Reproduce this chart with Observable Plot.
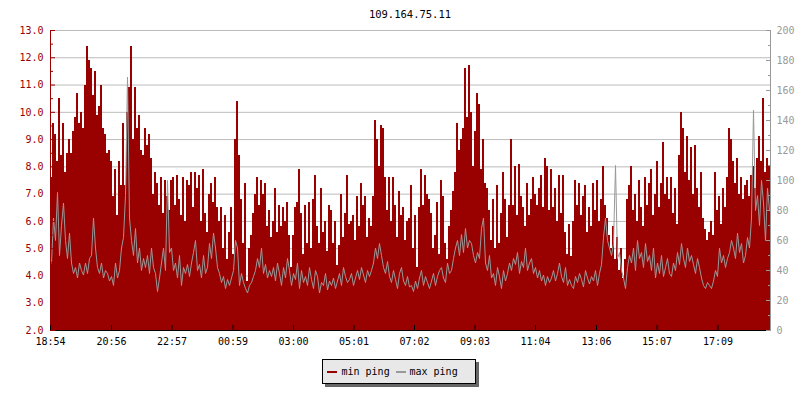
<!DOCTYPE html>
<html><head><meta charset="utf-8">
<script src="https://cdn.jsdelivr.net/npm/d3@7"></script>
<script src="https://cdn.jsdelivr.net/npm/@observablehq/plot@0.6"></script>
<style>
html,body{margin:0;padding:0;background:#fff;}
#wrap{position:relative;width:800px;height:400px;overflow:hidden;font-family:"DejaVu Sans Mono",monospace;}
#chart{position:absolute;left:0;top:0;}
#title{position:absolute;left:50px;width:720px;top:7px;text-align:center;font-size:10.5px;line-height:14px;color:#000;}
#legend{position:absolute;left:322px;top:359px;width:152px;height:23px;background:#e8e8e8;border:1px solid #000;box-shadow:3px 3px 0 #666;font-size:10px;color:#000;}
.sw{position:absolute;top:11px;width:10px;height:2px;}
.lt{position:absolute;top:0;line-height:23px;white-space:pre;}
</style></head><body>
<div id="wrap">
<div id="chart"></div>
<div id="title"></div>
<div id="legend"></div>
</div>
<script>
const chartTitle = "109.164.75.11";
const seriesNames = ["min ping", "max ping"];
const seriesColors = ["#990000", "#999999"];
const timeLabels = ["18:54","20:56","22:57","00:59","03:00","05:01","07:02","09:03","11:04","13:06","15:07","17:09"];
const leftTicks = [2,3,4,5,6,7,8,9,10,11,12,13];
const rightTicks = [0,20,40,60,80,100,120,140,160,180,200];
const spanMinutes = 1440;
const stepMinutes = 4;

// min ping (ms, left axis), one value per 4-minute column
const minPing = [
7.6,9.6,9.2,8.2,10.5,8.4,9.6,7.8,8.5,9.0,
8.5,9.3,9.8,10.7,9.6,10.0,9.4,11.0,12.4,11.9,
11.6,10.6,11.5,9.9,10.2,11.0,9.4,9.2,8.5,8.6,
8.2,6.9,7.9,6.2,8.2,7.3,9.6,7.3,10.0,10.9,
12.4,9.0,10.9,9.4,9.9,8.6,8.4,9.4,8.8,9.2,
8.3,7.0,7.8,7.4,6.6,7.6,6.3,7.5,6.9,6.4,
7.5,7.6,6.6,7.7,6.8,6.2,7.6,6.0,7.5,7.3,
7.8,6.5,7.8,7.2,7.7,6.0,7.9,6.3,5.6,7.0,
7.4,6.7,7.6,6.5,6.0,6.5,5.0,6.2,4.6,5.6,
6.5,4.8,9.0,10.4,8.4,6.8,5.2,7.4,3.8,5.0,
5.5,6.3,7.0,7.6,6.6,7.5,7.0,7.4,5.8,6.4,
5.4,6.0,7.2,5.6,6.6,5.8,6.5,6.0,6.7,5.5,
4.3,5.5,6.5,6.7,7.9,6.3,4.8,6.6,5.2,6.7,
5.0,6.8,7.7,5.8,5.2,7.2,5.6,6.0,4.9,6.6,
6.4,5.2,6.0,4.4,5.1,7.0,5.4,6.3,7.7,5.9,
6.0,6.2,5.3,6.9,5.8,7.4,6.6,6.9,5.4,6.1,
5.8,6.9,9.7,9.0,8.0,9.5,9.4,7.6,6.4,7.6,
6.0,7.6,6.6,5.4,7.1,6.2,6.5,5.3,6.0,6.1,
7.3,5.0,6.2,4.3,6.5,7.9,6.6,7.7,7.0,6.8,
6.3,5.0,5.5,6.7,4.8,7.5,6.9,5.2,4.6,5.8,
6.4,7.1,7.8,9.6,8.6,9.0,9.4,11.6,9.8,11.7,
10.0,8.0,9.3,10.7,10.3,7.9,9.0,7.4,7.2,6.4,
5.3,6.8,5.0,7.3,5.2,6.3,7.8,6.8,5.4,6.6,
9.0,6.6,8.0,6.2,8.1,6.9,6.5,5.8,7.4,6.2,
6.8,7.6,7.0,6.6,7.2,7.7,6.5,8.3,8.0,6.4,
7.9,6.5,7.2,6.0,7.7,6.3,7.7,5.6,4.8,5.9,
4.7,6.0,7.5,6.6,7.4,6.2,6.9,7.3,5.6,6.5,
5.8,7.4,6.4,7.5,6.0,6.8,8.0,6.6,6.1,5.5,
5.0,5.8,4.6,5.4,4.2,5.0,3.9,4.6,6.8,7.3,
8.0,6.4,7.0,6.0,7.5,6.5,5.8,7.6,6.6,7.4,
7.9,6.2,7.0,8.2,6.5,7.4,8.9,7.0,7.6,6.8,
7.6,6.3,7.2,5.9,8.4,10.0,9.4,7.8,9.1,7.5,
8.7,7.0,8.8,7.2,6.5,7.8,6.1,5.7,5.3,5.6,
6.0,5.5,7.8,6.4,6.9,5.9,7.2,6.5,7.6,9.4,
9.0,8.2,7.4,8.3,7.0,7.6,6.8,7.3,7.5,6.9,
7.7,8.0,7.2,8.3,9.1,8.2,10.5,7.8,8.3,8.0
];

// max ping (right axis units), one value per 4-minute column
const maxPing = [
45,75,60,92,50,70,85,60,48,65,
45,38,42,35,45,40,37,45,38,48,
50,75,55,42,38,45,35,40,38,33,
36,30,45,35,40,55,62,90,169,75,
60,50,68,45,55,40,48,42,50,38,
55,42,38,26,35,45,55,40,100,52,
55,40,45,35,50,30,42,38,44,36,
45,52,60,40,44,35,50,38,42,58,
48,65,55,42,38,32,36,28,34,30,
35,40,60,55,30,38,32,28,25,30,
32,36,40,48,42,55,38,44,35,40,
36,42,33,45,38,30,42,35,48,40,
30,38,34,45,28,40,32,36,30,42,
34,28,40,36,25,32,30,38,27,33,
30,35,28,33,38,30,42,36,32,34,
38,30,35,40,34,42,37,32,40,36,
40,45,55,48,58,50,42,38,46,36,
32,40,34,28,38,42,33,30,36,29,
30,26,33,28,35,40,30,36,32,28,
33,38,30,36,40,42,35,32,45,38,
40,48,55,60,50,64,52,68,55,60,
58,50,45,52,48,68,75,45,40,50,
35,38,30,42,36,28,40,33,38,45,
40,48,44,52,38,46,42,55,40,45,
48,38,42,35,40,33,37,30,36,32,
35,40,33,38,45,36,32,42,30,34,
30,28,36,32,38,34,29,40,35,31,
36,33,40,30,38,44,62,75,60,55,
50,58,110,48,52,40,35,28,42,50,
45,55,40,60,48,52,42,58,46,50,
40,55,35,45,38,50,36,42,48,38,
36,45,40,52,44,58,48,42,55,46,
50,44,38,48,42,35,30,28,32,30,
28,33,40,36,55,45,50,42,48,52,
60,55,48,65,52,58,45,50,62,55,
75,147,80,90,70,100,85,60,95,80
];

// minutes after the first label for each time tick
const toMin = s => { const [h, m] = s.split(":").map(Number); return h * 60 + m; };
const t0 = toMin(timeLabels[0]);
const tickMinutes = timeLabels.map(s => ((toMin(s) - t0) + 1440) % 1440);

const rightToLeft = d3.scaleLinear([rightTicks[0], rightTicks[rightTicks.length - 1]], [leftTicks[0], leftTicks[leftTicks.length - 1]]);
const yMin = leftTicks[0], yMax = leftTicks[leftTicks.length - 1];

const redRows = minPing.map((v, i) => ({t: i * stepMinutes, v}));
redRows.push({t: spanMinutes, v: minPing[minPing.length - 1]});
const grayRows = maxPing.map((v, i) => ({t: i * stepMinutes + stepMinutes / 2, v}));

const leftMinor = d3.range(yMin + 0.5, yMax, 1);
const rightMinor = d3.range(10, 200, 20);

const chart = Plot.plot({
  width: 800,
  height: 350,
  marginTop: 30,
  marginBottom: 20,
  marginLeft: 50,
  marginRight: 30,
  x: {domain: [0, spanMinutes], label: null},
  y: {domain: [yMin, yMax], label: null},
  style: {fontFamily: "DejaVu Sans Mono", fontSize: "10px", background: "transparent", overflow: "visible"},
  marks: [
    Plot.ruleY(leftTicks.slice(1), {stroke: "#bbbbbb", strokeWidth: 1}),
    Plot.area(redRows, {x1: "t", y1: () => yMin, y2: "v", curve: "step-after", fill: seriesColors[0], shapeRendering: "crispEdges"}),
    Plot.line(grayRows, {x: "t", y: d => rightToLeft(d.v), stroke: seriesColors[1], strokeWidth: 1}),
    Plot.ruleX([0], {stroke: seriesColors[0]}),
    Plot.ruleX([spanMinutes], {stroke: "#999999"}),
    Plot.ruleY([yMin], {stroke: "#000000"}),
    Plot.axisY(leftTicks, {anchor: "left", label: null, tickSize: -5, tickPadding: 12, tickFormat: d => d.toFixed(1), color: seriesColors[0]}),
    Plot.axisY(leftMinor, {anchor: "left", label: null, tickSize: -3, tickFormat: () => "", color: seriesColors[0]}),
    Plot.axisY(rightTicks.map(v => rightToLeft(v)), {anchor: "right", label: null, tickSize: -5, tickPadding: 11, tickFormat: d => String(Math.round(rightToLeft.invert(d))), color: "#999999"}),
    Plot.axisY(rightMinor.map(v => rightToLeft(v)), {anchor: "right", label: null, tickSize: -3, tickFormat: () => "", color: "#999999"}),
    Plot.axisX(tickMinutes, {anchor: "bottom", label: null, tickSize: -5, tickPadding: 12, tickFormat: d => timeLabels[tickMinutes.indexOf(d)], color: "#000000"})
  ]
});
document.getElementById("chart").appendChild(chart);
document.getElementById("title").textContent = chartTitle;

const legend = document.getElementById("legend");
const items = [
  {sw: 4, tx: 18.5}, {sw: 73, tx: 86.5}
];
seriesNames.forEach((name, i) => {
  const s = document.createElement("span");
  s.className = "sw"; s.style.left = items[i].sw + "px"; s.style.background = seriesColors[i];
  legend.appendChild(s);
  const t = document.createElement("span");
  t.className = "lt"; t.style.left = items[i].tx + "px"; t.textContent = name;
  legend.appendChild(t);
});
</script>
</body></html>
